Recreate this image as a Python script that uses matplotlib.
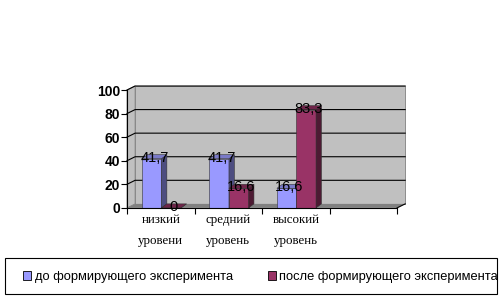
import matplotlib
matplotlib.use("Agg")
import matplotlib.pyplot as plt
from matplotlib.patches import Polygon, Rectangle
import numpy as np

categories = ["низкий\nуровени", "средний\nуровень", "высокий\nуровень", ""]
before = [41.7, 41.7, 16.6]
after = [0, 16.6, 83.3]
series_names = ["до формирующего эксперимента", "после формирующего эксперимента"]
yticks = [0, 20, 40, 60, 80, 100]

front = ["#9999FF", "#993366"]
side = ["#4D4D80", "#4D1A33"]
top = ["#7A7AC8", "#6E2449"]

fig = plt.figure(figsize=(5.02, 3.0), dpi=100)
ax = fig.add_axes([0.253, 0.307, 0.538, 0.393])
ax.set_xlim(0, 4)
ax.set_ylim(0, 100)
ax.set_facecolor("none")

dx, dy = 0.12, 3.4  # depth of the pseudo 3d

# walls and floor
ax.add_patch(Polygon([(0, 0), (dx, dy), (dx, 100 + dy), (0, 100)],
                     closed=True, fc="#C0C0C0", ec="#808080", lw=0.6, clip_on=False, zorder=0))
ax.add_patch(Rectangle((dx, dy), 4, 100, fc="#C0C0C0", ec="#808080", lw=0.6, clip_on=False, zorder=0))
ax.add_patch(Polygon([(0, 0), (4, 0), (4 + dx, dy), (dx, dy)],
                     closed=True, fc="#808080", ec="none", clip_on=False, zorder=1))
for t in yticks[1:]:
    ax.plot([0, dx, 4 + dx], [t, t + dy, t + dy], color="black", lw=0.8, clip_on=False, zorder=1)
ax.plot([4, 4 + dx], [0, dy], color="black", lw=0.8, clip_on=False, zorder=2)

x = np.arange(len(before))
w = 0.29
offs = [0.22, 0.51]
bd = 0.08  # bar depth
for si, vals in enumerate([before, after]):
    xs = x + offs[si]
    ax.bar(xs, vals, width=w, align="edge", color=front[si], edgecolor="#333333", lw=0.4, zorder=3 + si)
    for xi, v in zip(xs, vals):
        ax.add_patch(Polygon([(xi + w, 0), (xi + w + bd, dy), (xi + w + bd, v + dy), (xi + w, v)],
                             closed=True, fc=side[si], ec="#333333", lw=0.4, zorder=3 + si, clip_on=False))
        ax.add_patch(Polygon([(xi, v), (xi + bd, v + dy), (xi + w + bd, v + dy), (xi + w, v)],
                             closed=True, fc=top[si], ec="#333333", lw=0.4, zorder=3 + si, clip_on=False))
        lab = ("%g" % v).replace(".", ",")
        ax.text(xi + w / 2 + 0.04, v + 1.0, lab, ha="center", va="center", fontsize=10.5,
                family="Liberation Sans", color="black", zorder=10)

for s in ["top", "right"]:
    ax.spines[s].set_visible(False)
ax.spines["left"].set_zorder(6)
ax.spines["bottom"].set_zorder(6)
ax.set_yticks(yticks)
ax.set_yticklabels([str(t) for t in yticks], fontsize=10, fontweight="bold", family="Liberation Sans")
ax.tick_params(axis="y", length=4, width=0.8, pad=1)
ax.set_xticks(range(5))
ax.set_xticklabels([])
ax.tick_params(axis="x", length=4, width=0.8)
for i, c in enumerate(categories):
    ax.text(i + 0.5, -5, c, ha="center", va="top", fontsize=9.3, family="Liberation Serif",
            linespacing=2.0, transform=ax.transData)

# legend box
fig.patches.append(Rectangle((0.01, 0.02), 0.98, 0.12, transform=fig.transFigure,
                             fc="white", ec="black", lw=0.8, zorder=0))
handles = [Rectangle((0, 0), 1, 1, fc=front[i], ec="black", lw=0.6) for i in range(2)]
leg = fig.legend(handles, series_names, loc="center left", bbox_to_anchor=(0.046, 0.077),
                 ncol=2, prop={"family": "Liberation Sans", "size": 9.3},
                 handlelength=0.65, handleheight=0.65, handletextpad=0.25, borderaxespad=0,
                 borderpad=0, frameon=False, columnspacing=2.7)

fig.savefig("out.png", dpi=100)
